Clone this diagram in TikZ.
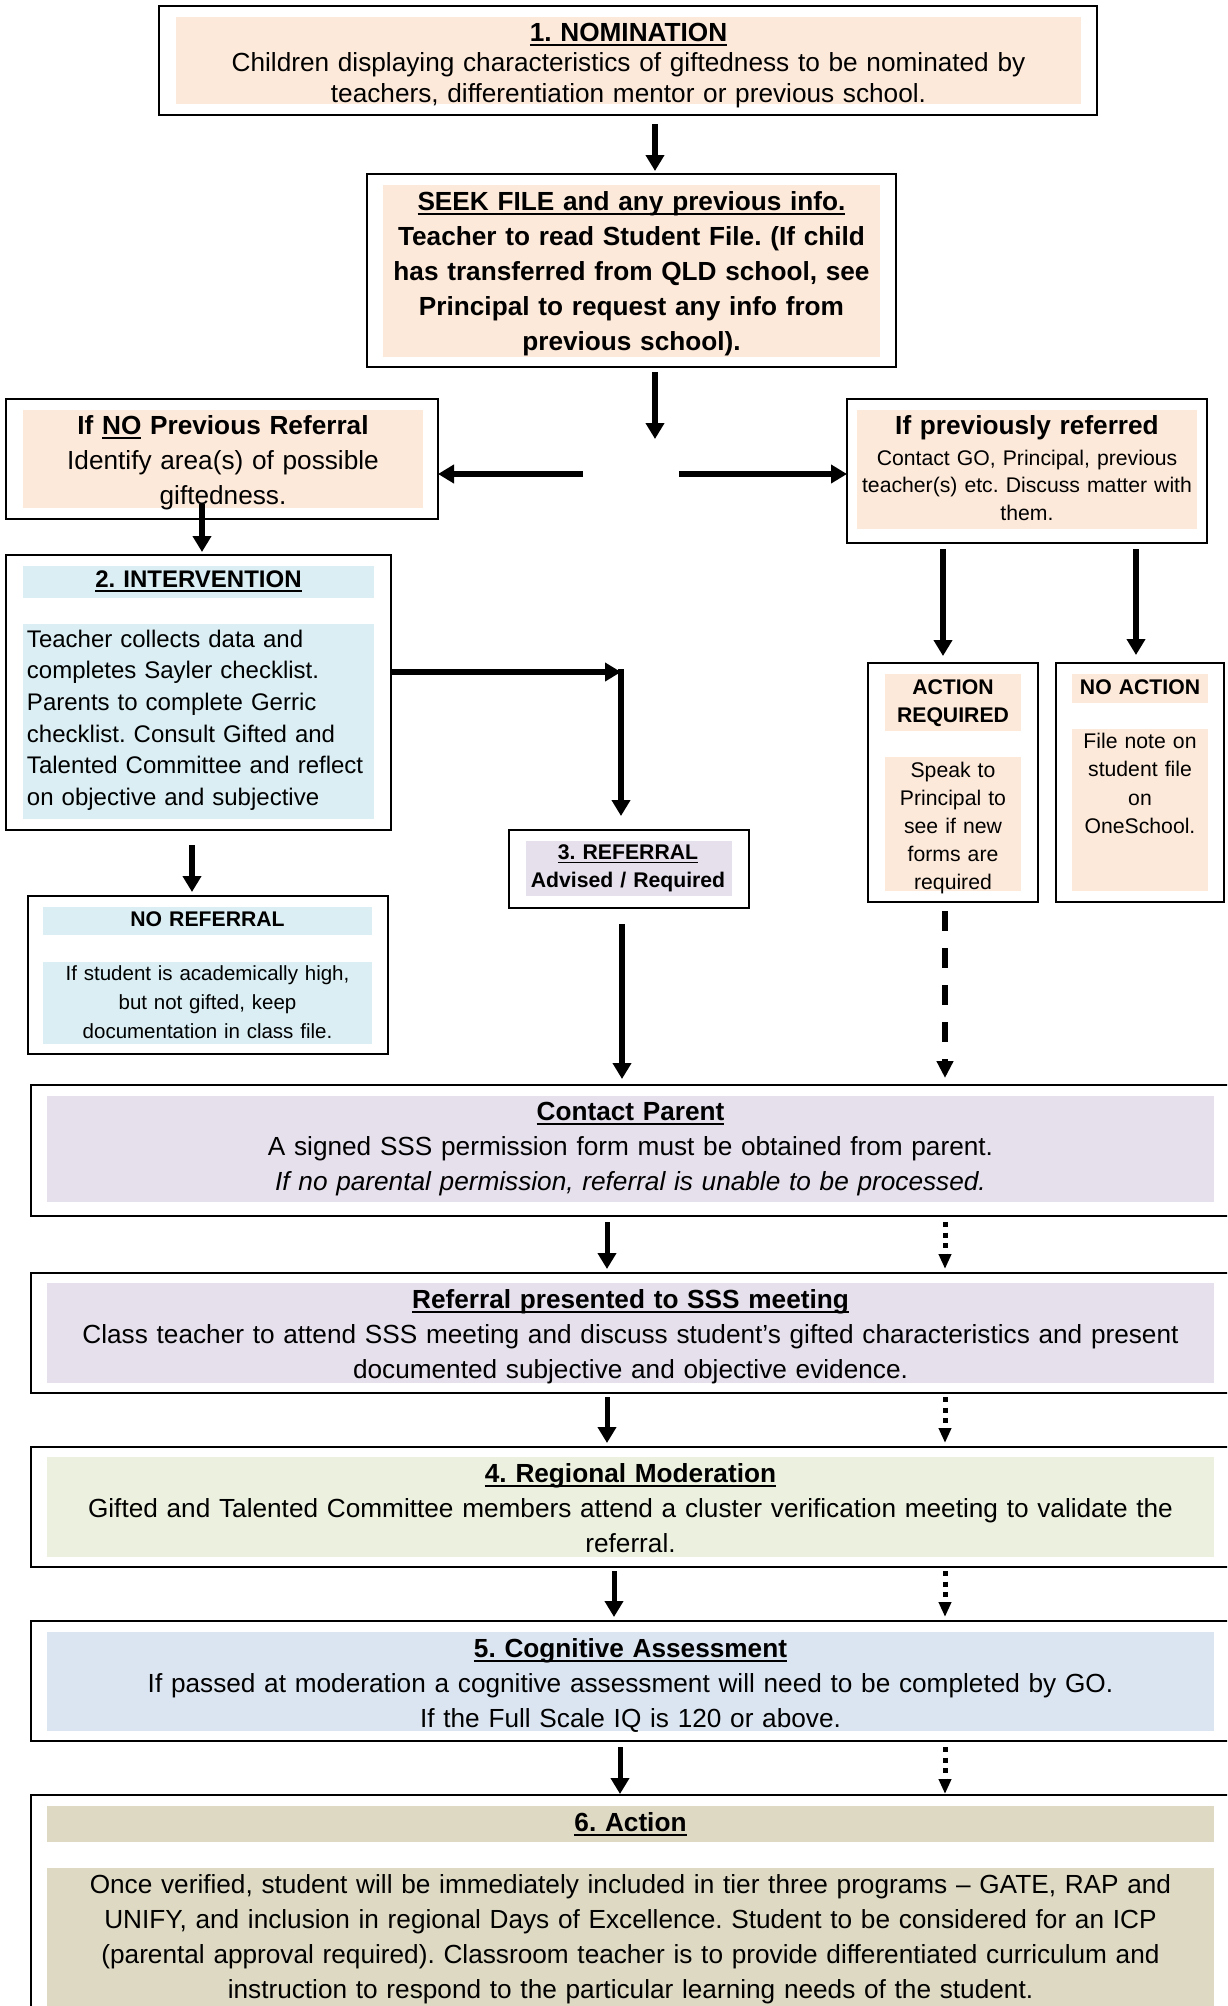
\documentclass[tikz,border=0pt]{standalone}
\usepackage{fontspec}
\setmainfont{Liberation Sans}
\usetikzlibrary{arrows.meta}
\definecolor{peach}{HTML}{FDE9D9}
\definecolor{lblue}{HTML}{DAEEF3}
\definecolor{lav}{HTML}{E5E0EC}
\definecolor{lgreen}{HTML}{EBF1DE}
\definecolor{lsky}{HTML}{DBE5F1}
\definecolor{tan}{HTML}{DDD9C3}
\frenchspacing
\newcommand\myul[1]{\setbox0=\hbox{#1}\rlap{\rule[-0.2em]{\wd0}{0.075em}}\box0\relax}
\newcommand\fsBig{\fontsize{26.2pt}{35.2pt}\selectfont}
\newcommand\fsMid{\fontsize{24pt}{31.7pt}\selectfont}
\newcommand\fsSmall{\fontsize{21.2pt}{28pt}\selectfont}
\begin{document}
\begin{tikzpicture}[x=1pt,y=-1pt,
  box/.style={draw=black, line width=2.5pt, inner sep=0pt, outer sep=0pt, anchor=north west},
  panel/.style={draw=none, inner sep=0pt, outer sep=0pt, anchor=north west},
  txt/.style={inner sep=0pt, outer sep=0pt, anchor=base, align=center},
  arr/.style={line width=5.5pt, -{Triangle[width=18pt,length=16pt]}},
  dotarr/.style={line width=5pt, dash pattern=on 5pt off 5.5pt, -{Triangle[width=12pt,length=15pt]}},
  dasharr/.style={line width=6pt, dash pattern=on 20pt off 17pt, -{Triangle[width=16pt,length=17pt]}}]
\path[use as bounding box] (0,0) rectangle (1227,2006);
\clip (0,0) rectangle (1227,2006);
\fill[white] (0,0) rectangle (1227,2006);

% ---------- boxes ----------
\node[box, minimum width=938pt, minimum height=109pt] (b1) at (159,6) {};
\node[panel, fill=peach, minimum width=905pt, minimum height=87pt] (f1) at (176,17) {};
\node[txt, text width=940pt, font=\fontsize{26.2pt}{30.5pt}\selectfont] (t1) at (628.5,41)
  {\textbf{\myul{1. NOMINATION}}\\Children displaying characteristics of giftedness to be nominated by\\teachers, differentiation mentor or previous school.};

\node[box, minimum width=529pt, minimum height=193pt] (b2) at (367,174) {};
\node[panel, fill=peach, minimum width=497pt, minimum height=172pt] (f2) at (383,185) {};
\node[txt, text width=520pt, font=\fsBig\bfseries] (t2) at (631.5,210)
  {\myul{SEEK FILE and any previous info.}\\Teacher to read Student File. (If child\\has transferred from QLD school, see\\Principal to request any info from\\previous school).};

\node[box, minimum width=432pt, minimum height=120pt] (b3) at (6,399) {};
\node[panel, fill=peach, minimum width=400pt, minimum height=98pt] (f3) at (23,410) {};
\node[txt, text width=420pt, font=\fsBig] (t3) at (223,434)
  {\textbf{If \myul{NO} Previous Referral}\\Identify area(s) of possible\\giftedness.};

\node[box, minimum width=360pt, minimum height=144pt] (b4) at (847,399) {};
\node[panel, fill=peach, minimum width=340pt, minimum height=119pt] (f4) at (857,410) {};
\node[txt, text width=350pt, font=\fsBig\bfseries] (t4a) at (1027,434) {If previously referred};
\node[txt, text width=350pt, font=\fontsize{21.2pt}{27.7pt}\selectfont] (t4b) at (1027,465)
  {Contact GO, Principal, previous\\teacher(s) etc. Discuss matter with\\them.};

\node[box, minimum width=385pt, minimum height=275pt] (b5) at (6,555) {};
\node[panel, fill=lblue, minimum width=351pt, minimum height=32pt] (f5a) at (23,566) {};
\node[panel, fill=lblue, minimum width=351pt, minimum height=195pt] (f5b) at (23,624) {};
\node[txt, text width=350pt, font=\fsMid\bfseries] (t5a) at (198.5,587) {\myul{2. INTERVENTION}};
\node[inner sep=0pt, outer sep=0pt, anchor=base west, align=left, text width=360pt, font=\fsMid] (t5b) at (27,647)
  {Teacher collects data and\\completes Sayler checklist.\\Parents to complete Gerric\\checklist. Consult Gifted and\\Talented Committee and reflect\\on objective and subjective};

\node[box, minimum width=360pt, minimum height=158pt] (b6) at (28,896) {};
\node[panel, fill=lblue, minimum width=329pt, minimum height=28pt] (f6a) at (43,907) {};
\node[panel, fill=lblue, minimum width=329pt, minimum height=82pt] (f6b) at (43,962) {};
\node[txt, text width=340pt, font=\fsSmall\bfseries] (t6a) at (207.5,926) {NO REFERRAL};
\node[txt, text width=340pt, font=\fontsize{20.5pt}{29pt}\selectfont] (t6b) at (207.5,980)
  {If student is academically high,\\but not gifted, keep\\documentation in class file.};

\node[box, minimum width=240pt, minimum height=78pt] (b7) at (509,830) {};
\node[panel, fill=lav, minimum width=206pt, minimum height=55pt] (f7) at (526,841) {};
\node[txt, text width=230pt, font=\fsSmall\bfseries] (t7) at (628,859)
  {\myul{3. REFERRAL}\\Advised / Required};

\node[box, minimum width=170pt, minimum height=239pt] (b8) at (868,663) {};
\node[panel, fill=peach, minimum width=136pt, minimum height=57pt] (f8a) at (885,674) {};
\node[panel, fill=peach, minimum width=136pt, minimum height=134pt] (f8b) at (885,757) {};
\node[txt, text width=160pt, font=\fsSmall\bfseries] (t8a) at (953,694) {ACTION\\REQUIRED};
\node[txt, text width=160pt, font=\fsSmall] (t8b) at (953,777)
  {Speak to\\Principal to\\see if new\\forms are\\required};

\node[box, minimum width=168pt, minimum height=239pt] (b9) at (1056,663) {};
\node[panel, fill=peach, minimum width=136pt, minimum height=29pt] (f9a) at (1072,674) {};
\node[panel, fill=peach, minimum width=136pt, minimum height=162pt] (f9b) at (1072,729) {};
\node[txt, text width=160pt, font=\fsSmall\bfseries] (t9a) at (1140,694) {NO ACTION};
\node[txt, text width=160pt, font=\fontsize{21.2pt}{28.5pt}\selectfont] (t9b) at (1140,748)
  {File note on\\student file\\on\\OneSchool.};

\node[box, minimum width=1214pt, minimum height=131pt] (b10) at (31,1085) {};
\node[panel, fill=lav, minimum width=1167pt, minimum height=106pt] (f10) at (47,1096) {};
\node[txt, text width=1200pt, font=\fsBig] (t10) at (630.5,1120)
  {\textbf{\myul{Contact Parent}}\\A signed SSS permission form must be obtained from parent.\\\textit{If no parental permission, referral is unable to be processed.}};

\node[box, minimum width=1214pt, minimum height=120pt] (b11) at (31,1273) {};
\node[panel, fill=lav, minimum width=1167pt, minimum height=100pt] (f11) at (47,1283) {};
\node[txt, text width=1200pt, font=\fsBig] (t11) at (630.5,1308)
  {\textbf{\myul{Referral presented to SSS meeting}}\\Class teacher to attend SSS meeting and discuss student’s gifted characteristics and present\\documented subjective and objective evidence.};

\node[box, minimum width=1214pt, minimum height=120pt] (b12) at (31,1447) {};
\node[panel, fill=lgreen, minimum width=1167pt, minimum height=100pt] (f12) at (47,1457) {};
\node[txt, text width=1200pt, font=\fsBig] (t12) at (630.5,1482)
  {\textbf{\myul{4. Regional Moderation}}\\Gifted and Talented Committee members attend a cluster verification meeting to validate the\\referral.};

\node[box, minimum width=1214pt, minimum height=120pt] (b13) at (31,1621) {};
\node[panel, fill=lsky, minimum width=1167pt, minimum height=99pt] (f13) at (47,1632) {};
\node[txt, text width=1200pt, font=\fsBig] (t13) at (630.5,1657)
  {\textbf{\myul{5. Cognitive Assessment}}\\If passed at moderation a cognitive assessment will need to be completed by GO.\\If the Full Scale IQ is 120 or above.};

\node[box, minimum width=1214pt, minimum height=300pt] (b14) at (31,1795) {};
\node[panel, fill=tan, minimum width=1167pt, minimum height=36pt] (f14a) at (47,1806) {};
\node[panel, fill=tan, minimum width=1167pt, minimum height=160pt] (f14b) at (47,1868) {};
\node[txt, text width=1200pt, font=\fsBig\bfseries] (t14a) at (630.5,1831) {\myul{6. Action}};
\node[txt, text width=1200pt, font=\fontsize{26.2pt}{35.3pt}\selectfont] (t14b) at (630.5,1893)
  {Once verified, student will be immediately included in tier three programs – GATE, RAP and\\UNIFY, and inclusion in regional Days of Excellence. Student to be considered for an ICP\\(parental approval required). Classroom teacher is to provide differentiated curriculum and\\instruction to respond to the particular learning needs of the student.};

% ---------- connector coordinates ----------
\coordinate (jn) at (655,474);
\coordinate (xa) at (202,0);
\coordinate (xb) at (192,0);
\coordinate (elb) at (621,672);
\coordinate (xc) at (943,0);
\coordinate (xd) at (1136,0);
\coordinate (xe) at (622,0);
\coordinate (xf) at (945,0);
\coordinate (xg) at (607,0);
\coordinate (xh) at (614,0);
\coordinate (xi) at (620,0);

% ---------- connectors ----------
\draw[arr, shorten <=9pt, shorten >=3pt] (b1.south -| jn) -- (b2.north -| jn);
\draw[arr, shorten <=5pt, shorten >=35pt] (b2.south -| jn) -- (jn);
\draw[arr, shorten <=72pt] (jn) -- (b3.east |- jn);
\draw[arr, shorten <=24pt] (jn) -- (b4.west |- jn);
\draw[arr, shorten <=-15pt, shorten >=3pt] (b3.south -| xa) -- (b5.north -| xa);
\draw[arr] (b5.east |- elb) -- (elb);
\draw[arr, shorten >=14pt] ([yshift=2.75pt]elb) -- (b7.north -| elb);
\draw[arr, shorten <=15pt, shorten >=4pt] (b5.south -| xb) -- (b6.north -| xb);
\draw[arr, shorten <=6pt, shorten >=7pt] (b4.south -| xc) -- (b8.north -| xc);
\draw[arr, shorten <=6pt, shorten >=8pt] (b4.south -| xd) -- (b9.north -| xd);
\draw[arr, shorten <=16pt, shorten >=6pt] (b7.south -| xe) -- (b10.north -| xe);
\draw[dasharr, shorten <=9pt, shorten >=7pt] (b8.south -| xf) -- (b10.north -| xf);

\draw[arr, line width=5pt, shorten <=6pt, shorten >=4pt] (b10.south -| xg) -- (b11.north -| xg);
\draw[dotarr, shorten <=6pt, shorten >=4pt] (b10.south -| xf) -- (b11.north -| xf);
\draw[arr, line width=5pt, shorten <=4pt, shorten >=4pt] (b11.south -| xg) -- (b12.north -| xg);
\draw[dotarr, shorten <=4pt, shorten >=4pt] (b11.south -| xf) -- (b12.north -| xf);
\draw[arr, line width=5pt, shorten <=4pt, shorten >=4pt] (b12.south -| xh) -- (b13.north -| xh);
\draw[dotarr, shorten <=4pt, shorten >=4pt] (b12.south -| xf) -- (b13.north -| xf);
\draw[arr, line width=5pt, shorten <=6pt, shorten >=1pt] (b13.south -| xi) -- (b14.north -| xi);
\draw[dotarr, shorten <=6pt, shorten >=1pt] (b13.south -| xf) -- (b14.north -| xf);
\end{tikzpicture}
\end{document}
